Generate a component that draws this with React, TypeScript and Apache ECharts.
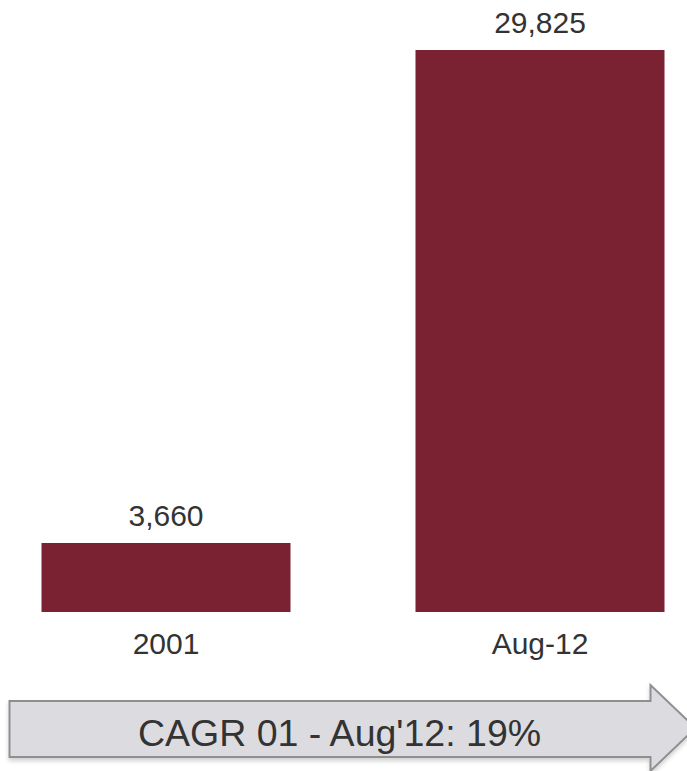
import React, { useEffect, useRef } from "react";
import * as echarts from "echarts";

const categories: string[] = ["2001", "Aug-12"];
const values: number[] = [3660, 29825];
const cagrText = "CAGR 01 - Aug'12: 19%";

const BAR_COLOR = "#7a2232";
const TEXT_COLOR = "#333333";
const FONT = "'Liberation Sans', Arial, sans-serif";
const OFFSET = 21.5; // chart canvas starts 21.5px left of the page

export default function App() {
  const ref = useRef<HTMLDivElement>(null);

  useEffect(() => {
    if (!ref.current) return;
    const chart = echarts.init(ref.current, undefined, { renderer: "svg" });
    const px = (x: number) => x + OFFSET;
    chart.setOption({
      animation: false,
      grid: { left: 0, width: 748, top: 50, height: 562, containLabel: false },
      xAxis: {
        type: "category",
        data: categories,
        axisLine: { show: false },
        axisTick: { show: false },
        axisLabel: {
          fontSize: 30,
          color: TEXT_COLOR,
          fontFamily: FONT,
          margin: 16,
        },
      },
      yAxis: {
        type: "value",
        min: 0,
        max: 29825,
        show: false,
        splitLine: { show: false },
      },
      series: [
        {
          type: "bar",
          data: values,
          barWidth: 249,
          itemStyle: { color: BAR_COLOR },
          label: {
            show: true,
            position: "top",
            distance: 13,
            fontSize: 30,
            color: TEXT_COLOR,
            fontFamily: FONT,
            formatter: (p: any) => Number(p.value).toLocaleString("en-US"),
          },
        },
      ],
      graphic: [
        {
          type: "polygon",
          shape: {
            points: [
              [px(9), 701],
              [px(650), 701],
              [px(650), 685],
              [px(695), 728],
              [px(650), 771],
              [px(650), 757],
              [px(9), 757],
            ],
          },
          style: {
            fill: "#dcdce0",
            stroke: "#8f8f8f",
            lineWidth: 2,
            shadowBlur: 4,
            shadowOffsetY: 3,
            shadowColor: "rgba(0,0,0,0.18)",
          },
          z: 10,
        },
        {
          type: "text",
          x: px(339),
          y: 733,
          style: {
            text: cagrText,
            fontSize: 37.5,
            fontFamily: FONT,
            fill: TEXT_COLOR,
            align: "center",
            verticalAlign: "middle",
          },
          z: 11,
        },
      ],
    });
    return () => chart.dispose();
  }, []);

  return (
    <div
      style={{
        position: "absolute",
        left: 0,
        top: 0,
        width: 687,
        height: 771,
        overflow: "hidden",
        background: "#ffffff",
      }}
    >
      <div
        ref={ref}
        style={{ position: "absolute", left: -OFFSET, top: 0, width: 748, height: 771 }}
      />
    </div>
  );
}
